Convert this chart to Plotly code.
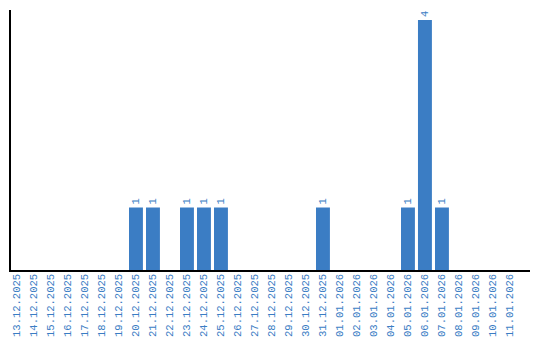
import plotly.graph_objects as go

dates = ["13.12.2025","14.12.2025","15.12.2025","16.12.2025","17.12.2025","18.12.2025","19.12.2025",
         "20.12.2025","21.12.2025","22.12.2025","23.12.2025","24.12.2025","25.12.2025","26.12.2025",
         "27.12.2025","28.12.2025","29.12.2025","30.12.2025","31.12.2025","01.01.2026","02.01.2026",
         "03.01.2026","04.01.2026","05.01.2026","06.01.2026","07.01.2026","08.01.2026","09.01.2026",
         "10.01.2026","11.01.2026"]
counts = [0,0,0,0,0,0,0,1,1,0,1,1,1,0,0,0,0,0,1,0,0,0,0,1,4,1,0,0,0,0]

blue = "#3b7dc4"
labels = [str(c) if c > 0 else "" for c in counts]

fig = go.Figure(go.Bar(
    x=dates, y=counts, marker_color=blue, marker_line_width=0,
    text=labels, textposition="outside", textangle=-90, cliponaxis=False,
    textfont=dict(color=blue, size=10.5, family="Liberation Mono"),
))
fig.update_layout(
    width=540, height=340, margin=dict(l=11, r=10, t=10, b=70),
    plot_bgcolor="white", paper_bgcolor="white", bargap=0.18, showlegend=False,
    xaxis=dict(type="category", range=[-0.35, 30.18], showline=True, linecolor="black",
               linewidth=1.5, tickangle=-90, ticks="", showgrid=False, automargin=False,
               ticklabelstandoff=-2,
               tickfont=dict(color=blue, size=10.5, family="Liberation Mono")),
    yaxis=dict(range=[0, 4.16], showline=True, linecolor="black", linewidth=1.5,
               showticklabels=False, ticks="", showgrid=False, zeroline=False, automargin=False),
)
fig.write_html("out.html")
